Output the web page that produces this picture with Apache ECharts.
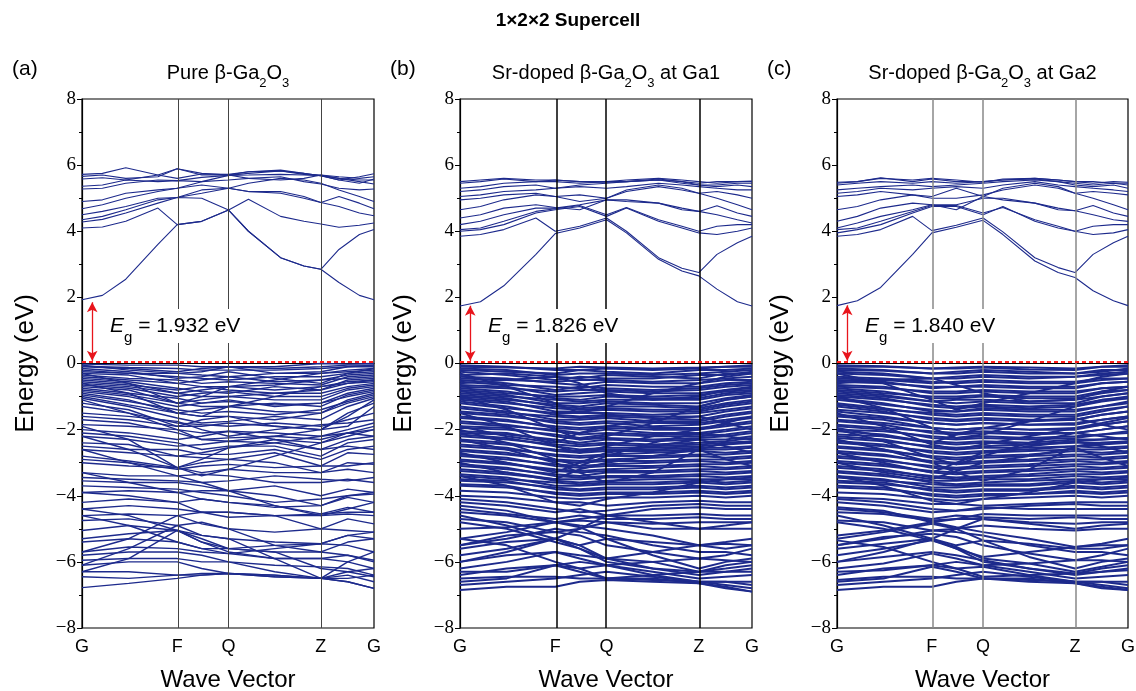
<!DOCTYPE html>
<html><head><meta charset="utf-8">
<script src="https://cdn.jsdelivr.net/npm/echarts@6/dist/echarts.min.js"></script>
<style>html,body{margin:0;padding:0;background:#fff}#c{width:1136px;height:691px}</style>
</head><body><div id="c"></div>
<script>
// ---------- axis ticks ----------
const kLabels = ['G', 'F', 'Q', 'Z', 'G'];
const kPos = [0, 0.326, 0.502, 0.818, 1];
// k grid for conduction / valence bands
const kCond = [0, .07, .15, .26, .326, .41, .502, .57, .68, .76, .818, .88, .95, 1];
const kVal = [0, .16, .326, .41, .502, .66, .818, .91, 1];
const gaps = [1.932, 1.826, 1.840];

// ---------- (a) Pure ----------
const condA = [
 [1.93,2.06,2.55,3.6,4.2,4.3,4.64,4.0,3.2,2.95,2.85,2.45,2.06,1.93],
 [4.1,4.13,4.3,4.7,4.2,4.3,4.64,4.97,4.45,4.3,4.22,4.12,4.18,4.25],
 [4.28,4.36,4.55,4.85,5.02,5.0,4.64,4.0,3.2,2.95,2.85,3.45,3.9,4.05],
 [4.35,4.45,4.65,4.95,5.02,5.15,5.3,5.45,5.6,5.55,5.45,5.25,5.05,4.9],
 [4.5,4.6,4.75,5.0,5.02,5.25,5.3,5.2,5.15,5.0,4.87,5.05,4.85,4.68],
 [4.68,4.8,5.0,5.2,5.3,5.4,5.3,5.2,5.2,5.05,4.87,4.75,4.55,4.47],
 [4.9,4.95,5.15,5.25,5.3,5.5,5.55,5.6,5.65,5.5,5.43,5.3,5.25,5.28],
 [5.28,5.3,5.45,5.55,5.53,5.63,5.69,5.75,5.82,5.75,5.68,5.6,5.5,5.43],
 [5.36,5.4,5.55,5.5,5.53,5.5,5.69,5.7,5.72,5.7,5.68,5.55,5.45,5.58],
 [5.58,5.62,5.55,5.7,5.89,5.75,5.7,5.8,5.85,5.75,5.68,5.55,5.65,5.74],
 [5.72,5.75,5.92,5.7,5.6,5.73,5.72,5.8,5.82,5.72,5.7,5.65,5.6,5.65],
 [5.66,5.7,5.6,5.65,5.89,5.7,5.7,5.6,5.55,5.6,5.7,5.6,5.55,5.55]
];
const valA = [
 [-0.02,-0.05,-0.05,-0.1,-0.1,-0.1,0,-0.02,0],
 [-0.05,-0.2,-0.3,-0.25,-0.1,-0.15,-0.1,-0.05,-0.05],
 [-0.08,-0.12,-0.15,-0.2,-0.2,-0.2,-0.15,-0.1,-0.05],
 [-0.1,-0.15,-0.25,-0.15,-0.1,-0.3,-0.25,-0.1,-0.1],
 [-0.15,-0.25,-0.45,-0.4,-0.25,-0.45,-0.6,-0.3,-0.15],
 [-0.2,-0.3,-0.3,-0.35,-0.4,-0.3,-0.3,-0.25,-0.2],
 [-0.25,-0.3,-0.4,-0.45,-0.5,-0.4,-0.4,-0.3,-0.25],
 [-0.3,-0.35,-0.6,-0.5,-0.4,-0.55,-0.5,-0.35,-0.3],
 [-0.3,-0.6,-1.2,-1.0,-0.7,-0.5,-0.3,-0.2,-0.15],
 [-0.35,-0.45,-0.5,-0.6,-0.55,-0.6,-0.65,-0.4,-0.35],
 [-0.4,-0.5,-0.6,-0.7,-0.7,-0.65,-0.5,-0.45,-0.4],
 [-0.45,-0.55,-0.75,-0.85,-0.9,-0.7,-0.8,-0.5,-0.45],
 [-0.5,-0.6,-0.9,-0.8,-0.7,-0.8,-0.7,-0.55,-0.5],
 [-0.55,-0.65,-0.8,-0.7,-0.8,-0.9,-0.8,-0.6,-0.55],
 [-0.6,-0.7,-0.9,-1.0,-1.0,-0.9,-0.9,-0.7,-0.6],
 [-0.6,-0.9,-1.5,-1.6,-1.3,-1.0,-0.7,-0.6,-0.5],
 [-0.65,-0.75,-1.0,-0.9,-0.85,-1.0,-1.0,-0.75,-0.65],
 [-0.7,-0.8,-1.2,-1.1,-1.0,-1.1,-1.1,-0.8,-0.7],
 [-0.75,-0.9,-1.05,-1.2,-1.1,-1.3,-1.2,-0.9,-0.75],
 [-0.8,-0.95,-1.2,-1.3,-1.3,-1.2,-1.3,-0.95,-0.8],
 [-0.85,-1.0,-1.3,-1.2,-1.15,-1.25,-1.2,-1.0,-0.85],
 [-0.9,-1.1,-1.5,-1.4,-1.3,-1.45,-1.5,-1.1,-0.9],
 [-0.95,-1.15,-1.4,-1.5,-1.45,-1.55,-1.4,-1.15,-0.95],
 [-1.0,-1.25,-1.5,-1.6,-1.6,-1.7,-1.5,-1.2,-1.0],
 [-1.05,-1.3,-1.65,-1.8,-1.75,-1.6,-1.7,-1.3,-1.05],
 [-1.1,-1.5,-2.0,-2.3,-2.35,-2.2,-2.0,-1.5,-1.2],
 [-1.2,-1.4,-1.9,-1.7,-1.6,-1.9,-2.0,-1.6,-1.1],
 [-1.3,-1.5,-1.8,-1.85,-1.9,-1.8,-1.9,-1.7,-1.5],
 [-1.5,-1.6,-1.75,-2.0,-2.2,-2.0,-1.85,-1.8,-1.7],
 [-1.6,-1.7,-1.9,-1.9,-1.8,-1.9,-2.0,-1.9,-1.3],
 [-1.7,-1.8,-2.1,-2.3,-2.25,-2.2,-2.3,-2.1,-1.9],
 [-1.85,-1.9,-2.0,-2.1,-2.05,-2.1,-2.2,-2.0,-1.8],
 [-1.9,-2.3,-3.15,-3.4,-3.2,-2.8,-2.4,-2.2,-2.0],
 [-2.0,-2.1,-2.3,-2.2,-2.05,-2.3,-2.4,-2.1,-2.0],
 [-2.1,-2.2,-2.4,-2.6,-2.5,-2.5,-2.8,-2.4,-2.3],
 [-2.2,-2.3,-2.5,-2.45,-2.35,-2.4,-2.6,-2.3,-2.2],
 [-2.2,-2.6,-3.15,-2.9,-2.55,-2.4,-2.2,-2.1,-2.2],
 [-2.4,-2.45,-2.8,-2.7,-2.55,-2.3,-2.6,-2.5,-2.6],
 [-2.5,-2.6,-2.6,-2.75,-2.75,-2.6,-2.9,-2.6,-2.5],
 [-2.6,-2.7,-2.8,-2.85,-2.9,-2.7,-3.1,-2.7,-2.75],
 [-2.6,-3.0,-3.4,-3.6,-3.85,-4.3,-4.6,-4.4,-4.2],
 [-2.8,-2.95,-3.15,-3.0,-2.9,-3.0,-3.3,-3.0,-3.05],
 [-2.9,-3.0,-3.2,-3.1,-3.05,-3.15,-3.1,-3.1,-3.0],
 [-3.0,-3.1,-3.15,-3.3,-3.2,-3.3,-3.3,-3.2,-3.3],
 [-3.3,-3.4,-3.4,-3.35,-3.4,-3.6,-3.6,-3.5,-3.6],
 [-3.3,-3.6,-3.9,-4.1,-4.2,-4.35,-4.3,-4.0,-3.9],
 [-3.45,-3.5,-3.55,-3.6,-3.55,-3.4,-3.5,-3.55,-3.45],
 [-3.55,-3.6,-3.6,-3.7,-3.85,-3.7,-4.0,-3.8,-3.9],
 [-3.7,-3.75,-3.8,-3.9,-4.0,-4.2,-4.1,-4.0,-3.95],
 [-3.9,-3.85,-3.9,-3.85,-3.85,-4.0,-4.3,-4.05,-4.2],
 [-3.9,-4.0,-4.2,-4.5,-4.5,-4.6,-4.55,-4.5,-4.5],
 [-4.2,-4.1,-4.2,-4.1,-4.2,-4.3,-4.55,-4.35,-4.5],
 [-4.4,-4.3,-4.4,-4.5,-4.5,-4.6,-4.6,-4.55,-4.6],
 [-4.4,-4.6,-5.05,-5.4,-5.7,-5.9,-5.9,-5.8,-5.95],
 [-4.6,-4.55,-4.6,-4.5,-4.65,-4.6,-5.0,-4.7,-4.85],
 [-4.6,-4.9,-5.4,-5.6,-5.75,-5.6,-5.45,-5.2,-5.1],
 [-4.75,-4.7,-4.9,-4.8,-5.0,-5.1,-5.0,-5.05,-5.1],
 [-5.05,-4.9,-5.05,-5.2,-5.3,-5.4,-5.45,-5.2,-5.3],
 [-5.3,-5.15,-5.05,-5.4,-5.6,-5.5,-5.45,-5.5,-5.7],
 [-5.4,-5.3,-5.4,-5.6,-5.6,-5.7,-5.7,-5.8,-6.0],
 [-5.7,-5.3,-4.6,-4.85,-5.0,-5.5,-5.7,-5.4,-5.3],
 [-5.7,-5.55,-5.6,-5.7,-5.75,-5.9,-5.9,-6.0,-6.2],
 [-5.8,-5.7,-5.7,-5.8,-6.0,-6.1,-6.15,-6.2,-6.4],
 [-5.95,-5.9,-5.9,-6.0,-6.0,-6.3,-6.5,-6.4,-6.6],
 [-6.1,-5.6,-4.9,-5.2,-5.3,-5.9,-6.5,-6.0,-5.7],
 [-6.1,-6.0,-6.0,-6.2,-6.35,-6.45,-6.5,-6.6,-6.8],
 [-6.3,-5.9,-5.05,-5.3,-5.6,-5.7,-6.2,-6.3,-6.45],
 [-6.3,-6.3,-6.4,-6.35,-6.35,-6.4,-6.5,-6.5,-6.4],
 [-6.45,-6.5,-6.4,-6.4,-6.35,-6.45,-6.5,-6.3,-6.2],
 [-6.78,-6.65,-6.5,-6.4,-6.35,-6.4,-6.5,-6.6,-6.8]
];

// ---------- (b) Sr at Ga1 ----------
const condB = [
 [1.74,1.87,2.35,3.3,3.93,4.1,4.35,3.95,3.15,2.8,2.65,2.25,1.87,1.74],
 [3.85,3.9,4.05,4.4,4.0,4.15,4.4,4.0,3.2,2.88,2.75,3.3,3.65,3.85],
 [4.0,4.05,4.2,4.55,4.65,4.75,4.45,4.7,4.3,4.1,3.95,3.9,4.0,4.1],
 [4.05,4.1,4.3,4.6,4.68,4.78,4.5,4.72,4.35,4.15,4.0,4.15,4.2,4.2],
 [4.2,4.3,4.5,4.7,4.7,4.8,4.95,4.95,4.85,4.7,4.6,4.77,4.55,4.45],
 [4.4,4.5,4.7,4.8,4.72,4.65,4.95,4.9,4.85,4.65,4.6,4.5,4.35,4.25],
 [4.65,4.75,4.95,5.1,5.05,4.9,5.0,5.2,5.35,5.25,5.15,5.0,4.8,4.65],
 [4.95,5.0,5.1,5.15,5.05,5.1,5.0,5.25,5.4,5.3,5.15,5.2,5.1,5.0],
 [5.05,5.1,5.2,5.25,5.3,5.35,5.3,5.35,5.45,5.4,5.35,5.3,5.25,5.25],
 [5.2,5.25,5.35,5.4,5.3,5.4,5.45,5.5,5.55,5.45,5.4,5.35,5.4,5.35],
 [5.3,5.35,5.45,5.5,5.5,5.45,5.5,5.5,5.55,5.5,5.4,5.4,5.45,5.45],
 [5.45,5.5,5.58,5.5,5.55,5.5,5.48,5.5,5.58,5.5,5.45,5.5,5.5,5.5],
 [5.5,5.55,5.6,5.55,5.55,5.5,5.5,5.55,5.6,5.55,5.5,5.45,5.5,5.52]
];
const valB = [
 [-0.05,-0.1,-0.2,-0.2,-0.15,-0.2,-0.15,-0.1,-0.05],
 [-0.1,-0.12,-0.15,-0.1,-0.12,-0.15,-0.12,-0.1,-0.1],
 [-0.15,-0.2,-0.35,-0.3,-0.3,-0.35,-0.3,-0.25,-0.2],
 [-0.2,-0.25,-0.3,-0.2,-0.25,-0.3,-0.2,-0.2,-0.15],
 [-0.25,-0.35,-0.5,-0.4,-0.45,-0.45,-0.35,-0.35,-0.25],
 [-0.3,-0.7,-1.2,-1.5,-1.3,-0.9,-0.6,-0.4,-0.3],
 [-0.35,-0.3,-0.4,-0.45,-0.35,-0.4,-0.45,-0.3,-0.3],
 [-0.4,-0.45,-0.6,-0.65,-0.55,-0.6,-0.6,-0.5,-0.5],
 [-0.45,-0.5,-0.55,-0.5,-0.5,-0.55,-0.5,-0.45,-0.4],
 [-0.5,-0.6,-0.8,-0.7,-0.75,-0.8,-0.75,-0.65,-0.6],
 [-0.55,-0.65,-0.7,-0.75,-0.65,-0.7,-0.7,-0.6,-0.55],
 [-0.6,-0.5,-0.4,-0.6,-0.9,-1.1,-1.0,-0.8,-0.7],
 [-0.65,-0.7,-0.95,-0.9,-0.85,-0.9,-0.9,-0.8,-0.75],
 [-0.7,-0.75,-0.85,-0.8,-0.8,-0.85,-0.8,-0.7,-0.65],
 [-0.75,-0.85,-1.05,-1.1,-1.0,-1.05,-1.05,-0.9,-0.85],
 [-0.8,-0.9,-1.0,-1.0,-0.95,-1.0,-0.95,-0.85,-0.8],
 [-0.85,-0.95,-1.2,-1.2,-1.15,-1.2,-1.2,-1.05,-0.95],
 [-0.9,-1.0,-1.1,-1.15,-1.1,-1.1,-1.1,-0.95,-0.9],
 [-0.95,-1.05,-1.3,-1.35,-1.3,-1.3,-1.35,-1.2,-1.1],
 [-1.0,-1.1,-1.25,-1.3,-1.2,-1.25,-1.3,-1.1,-1.0],
 [-1.0,-1.4,-2.0,-2.3,-2.2,-1.8,-1.3,-1.1,-1.0],
 [-1.05,-1.15,-1.45,-1.45,-1.4,-1.45,-1.45,-1.3,-1.2],
 [-1.1,-1.2,-1.35,-1.4,-1.35,-1.4,-1.4,-1.25,-1.15],
 [-1.15,-1.3,-1.55,-1.6,-1.55,-1.6,-1.6,-1.45,-1.35],
 [-1.2,-1.35,-1.5,-1.5,-1.5,-1.55,-1.5,-1.4,-1.3],
 [-1.3,-1.45,-1.7,-1.7,-1.65,-1.75,-1.75,-1.6,-1.5],
 [-1.35,-1.5,-1.6,-1.65,-1.6,-1.65,-1.7,-1.55,-1.45],
 [-1.45,-1.55,-1.8,-1.85,-1.8,-1.9,-1.85,-1.75,-1.65],
 [-1.5,-1.6,-1.75,-1.8,-1.75,-1.8,-1.8,-1.7,-1.6],
 [-1.5,-1.9,-2.5,-2.7,-2.5,-2.2,-2.0,-1.8,-1.6],
 [-1.6,-1.7,-1.95,-2.0,-1.95,-2.0,-2.0,-1.9,-1.8],
 [-1.65,-1.75,-1.9,-1.95,-1.9,-1.95,-1.95,-1.85,-1.75],
 [-1.75,-1.85,-2.05,-2.15,-2.1,-2.15,-2.15,-2.05,-1.95],
 [-1.8,-1.9,-2.0,-2.1,-2.0,-2.1,-2.1,-2.0,-1.9],
 [-1.9,-2.2,-2.4,-2.1,-1.9,-1.7,-1.6,-1.8,-2.0],
 [-1.9,-1.95,-2.2,-2.3,-2.25,-2.3,-2.25,-2.2,-2.1],
 [-1.95,-2.0,-2.15,-2.25,-2.15,-2.2,-2.2,-2.15,-2.05],
 [-2.0,-2.4,-2.9,-3.1,-2.8,-2.4,-2.1,-2.2,-2.3],
 [-2.05,-2.1,-2.35,-2.45,-2.4,-2.45,-2.4,-2.35,-2.25],
 [-2.1,-2.15,-2.3,-2.4,-2.3,-2.35,-2.3,-2.3,-2.2],
 [-2.15,-2.25,-2.5,-2.6,-2.55,-2.55,-2.5,-2.45,-2.4],
 [-2.2,-2.3,-2.45,-2.5,-2.45,-2.5,-2.45,-2.4,-2.35],
 [-2.3,-2.6,-3.0,-3.3,-3.6,-3.3,-2.6,-2.4,-2.4],
 [-2.3,-2.4,-2.65,-2.7,-2.65,-2.65,-2.6,-2.6,-2.55],
 [-2.35,-2.45,-2.6,-2.65,-2.6,-2.6,-2.55,-2.55,-2.5],
 [-2.45,-2.55,-2.8,-2.85,-2.8,-2.8,-2.75,-2.75,-2.7],
 [-2.5,-2.6,-2.75,-2.8,-2.75,-2.7,-2.65,-2.7,-2.65],
 [-2.6,-2.7,-2.95,-3.0,-2.95,-2.95,-2.9,-2.9,-2.85],
 [-2.65,-2.75,-2.9,-2.95,-2.9,-2.85,-2.8,-2.85,-2.8],
 [-2.7,-3.0,-3.3,-3.0,-2.7,-2.5,-2.3,-2.5,-2.7],
 [-2.75,-2.85,-3.1,-3.15,-3.1,-3.1,-3.05,-3.05,-3.0],
 [-2.8,-2.9,-3.05,-3.1,-3.05,-3.0,-2.95,-3.0,-2.95],
 [-2.9,-3.0,-3.25,-3.3,-3.25,-3.25,-3.2,-3.2,-3.15],
 [-2.95,-3.05,-3.2,-3.25,-3.2,-3.15,-3.1,-3.15,-3.1],
 [-3.0,-3.3,-3.5,-3.2,-3.0,-2.8,-2.6,-2.9,-3.1],
 [-3.05,-3.15,-3.4,-3.45,-3.4,-3.4,-3.35,-3.35,-3.3],
 [-3.1,-3.2,-3.35,-3.4,-3.3,-3.3,-3.25,-3.3,-3.25],
 [-3.2,-3.3,-3.55,-3.6,-3.55,-3.5,-3.5,-3.5,-3.45],
 [-3.25,-3.35,-3.5,-3.5,-3.45,-3.45,-3.4,-3.45,-3.4],
 [-3.35,-3.45,-3.7,-3.7,-3.65,-3.65,-3.6,-3.65,-3.6],
 [-3.4,-3.5,-3.6,-3.65,-3.6,-3.6,-3.55,-3.6,-3.55],
 [-3.4,-3.7,-4.2,-4.3,-4.1,-3.9,-3.6,-3.5,-3.5],
 [-3.5,-3.55,-3.8,-3.85,-3.8,-3.8,-3.75,-3.8,-3.75],
 [-3.55,-3.6,-3.75,-3.8,-3.75,-3.75,-3.7,-3.75,-3.7],
 [-3.65,-3.7,-3.95,-4.0,-3.95,-3.95,-3.9,-3.95,-3.9],
 [-3.7,-3.75,-3.9,-3.95,-3.9,-3.9,-3.85,-3.9,-3.85],
 [-3.85,-3.9,-4.05,-4.1,-4.05,-4.05,-4.0,-4.05,-4.0],
 [-4.0,-4.05,-4.2,-4.2,-4.3,-4.2,-4.15,-4.2,-4.2],
 [-4.1,-4.2,-4.4,-4.5,-4.45,-4.3,-4.25,-4.3,-4.3],
 [-4.2,-4.3,-4.5,-4.4,-4.6,-4.4,-4.35,-4.4,-4.4],
 [-4.3,-4.45,-4.8,-4.7,-4.6,-4.6,-4.55,-4.6,-4.6],
 [-4.4,-4.55,-4.7,-4.6,-4.7,-4.7,-4.65,-4.7,-4.7],
 [-4.5,-4.6,-4.8,-4.75,-4.8,-4.85,-4.8,-4.8,-4.8],
 [-4.6,-4.9,-5.3,-5.0,-4.6,-4.8,-5.0,-4.9,-4.8],
 [-4.7,-4.8,-5.1,-5.0,-4.8,-5.0,-5.0,-5.0,-5.0],
 [-4.8,-5.0,-5.4,-5.6,-5.9,-5.7,-5.5,-5.45,-5.5],
 [-5.0,-4.95,-4.8,-4.9,-5.0,-5.2,-5.5,-5.4,-5.3],
 [-5.3,-5.1,-4.8,-4.95,-5.3,-5.4,-5.5,-5.6,-5.5],
 [-5.3,-5.5,-6.0,-6.2,-6.5,-6.4,-6.3,-6.2,-6.1],
 [-5.5,-5.2,-5.1,-5.2,-5.5,-5.7,-5.9,-5.8,-5.6],
 [-5.5,-5.3,-5.0,-5.1,-5.2,-5.5,-5.7,-5.7,-5.8],
 [-5.6,-5.4,-5.3,-5.5,-5.3,-5.8,-6.2,-6.0,-5.9],
 [-5.8,-5.6,-5.3,-5.5,-5.9,-6.0,-6.3,-6.1,-6.0],
 [-6.0,-5.8,-5.7,-5.8,-5.9,-6.2,-6.3,-6.3,-6.3],
 [-6.0,-5.7,-5.3,-5.6,-6.0,-6.2,-6.4,-6.3,-6.2],
 [-6.2,-6.0,-5.7,-5.9,-6.1,-6.3,-6.5,-6.45,-6.4],
 [-6.3,-6.3,-6.1,-6.0,-6.1,-6.0,-5.9,-5.95,-6.0],
 [-6.4,-6.2,-6.1,-6.2,-6.1,-6.4,-6.6,-6.6,-6.6],
 [-6.5,-6.45,-6.45,-6.5,-6.5,-6.55,-6.6,-6.6,-6.7],
 [-6.6,-6.5,-6.1,-6.3,-6.5,-6.5,-6.65,-6.75,-6.9],
 [-6.7,-6.6,-6.5,-6.4,-6.3,-6.45,-6.6,-6.7,-6.8],
 [-6.85,-6.75,-6.75,-6.6,-6.55,-6.6,-6.65,-6.8,-6.9]
];

// ---------- (c) Sr at Ga2 ----------
const condC = [
 [1.75,1.9,2.3,3.3,3.95,4.12,4.33,3.9,3.1,2.75,2.6,2.2,1.9,1.75],
 [3.85,3.9,4.05,4.45,4.02,4.18,4.4,3.98,3.2,2.9,2.75,3.3,3.65,3.85],
 [3.95,4.05,4.2,4.55,4.75,4.75,4.5,4.75,4.3,4.1,4.0,3.9,3.95,4.05],
 [4.05,4.1,4.3,4.6,4.78,4.78,4.55,4.72,4.35,4.15,4.0,4.15,4.2,4.2],
 [4.1,4.25,4.45,4.65,4.8,4.8,5.0,5.0,4.85,4.7,4.62,4.78,4.55,4.45],
 [4.3,4.45,4.7,4.85,4.8,4.65,5.05,4.95,4.85,4.65,4.62,4.5,4.35,4.3],
 [4.65,4.75,4.95,5.1,5.0,5.0,5.1,5.25,5.4,5.3,5.15,5.0,4.8,4.65],
 [5.05,5.1,5.2,5.1,5.05,5.3,5.05,5.3,5.45,5.35,5.15,5.2,5.15,5.1],
 [5.15,5.2,5.3,5.25,5.3,5.35,5.3,5.4,5.5,5.4,5.35,5.3,5.25,5.2],
 [5.25,5.3,5.35,5.4,5.35,5.4,5.45,5.5,5.55,5.5,5.4,5.35,5.4,5.3],
 [5.4,5.45,5.5,5.45,5.5,5.45,5.5,5.55,5.58,5.5,5.45,5.4,5.45,5.4],
 [5.45,5.5,5.62,5.5,5.58,5.5,5.5,5.55,5.6,5.55,5.5,5.5,5.45,5.45],
 [5.48,5.5,5.6,5.55,5.6,5.55,5.48,5.58,5.6,5.55,5.5,5.45,5.5,5.48]
];
const valC = [
 [-0.05,-0.08,-0.15,-0.15,-0.12,-0.18,-0.2,-0.1,-0.05],
 [-0.1,-0.1,-0.15,-0.12,-0.1,-0.12,-0.15,-0.1,-0.1],
 [-0.15,-0.2,-0.3,-0.3,-0.25,-0.3,-0.3,-0.25,-0.15],
 [-0.2,-0.22,-0.3,-0.25,-0.2,-0.25,-0.3,-0.2,-0.2],
 [-0.25,-0.3,-0.45,-0.45,-0.4,-0.45,-0.4,-0.3,-0.25],
 [-0.3,-0.6,-1.1,-1.4,-1.2,-0.9,-0.6,-0.4,-0.3],
 [-0.3,-0.35,-0.45,-0.4,-0.35,-0.4,-0.4,-0.35,-0.3],
 [-0.4,-0.45,-0.55,-0.6,-0.55,-0.6,-0.6,-0.5,-0.45],
 [-0.45,-0.5,-0.6,-0.55,-0.5,-0.55,-0.55,-0.45,-0.45],
 [-0.5,-0.55,-0.75,-0.7,-0.7,-0.75,-0.75,-0.6,-0.55],
 [-0.55,-0.6,-0.7,-0.7,-0.65,-0.7,-0.7,-0.6,-0.55],
 [-0.6,-0.5,-0.45,-0.65,-0.9,-1.15,-1.1,-0.85,-0.7],
 [-0.65,-0.7,-0.9,-0.9,-0.85,-0.9,-0.9,-0.75,-0.7],
 [-0.7,-0.75,-0.85,-0.85,-0.8,-0.85,-0.85,-0.75,-0.7],
 [-0.75,-0.85,-1.05,-1.05,-1.0,-1.05,-1.05,-0.9,-0.8],
 [-0.8,-0.9,-1.0,-1.0,-0.95,-1.0,-1.0,-0.85,-0.8],
 [-0.85,-0.95,-1.15,-1.2,-1.15,-1.2,-1.2,-1.0,-0.9],
 [-0.9,-1.0,-1.15,-1.1,-1.1,-1.15,-1.1,-1.0,-0.9],
 [-0.95,-1.05,-1.3,-1.35,-1.3,-1.35,-1.3,-1.15,-1.05],
 [-1.0,-1.1,-1.25,-1.3,-1.25,-1.3,-1.25,-1.1,-1.05],
 [-1.0,-1.35,-1.95,-2.25,-2.15,-1.75,-1.3,-1.1,-1.0],
 [-1.05,-1.2,-1.45,-1.45,-1.4,-1.45,-1.45,-1.3,-1.15],
 [-1.1,-1.25,-1.4,-1.45,-1.35,-1.4,-1.4,-1.3,-1.2],
 [-1.2,-1.35,-1.55,-1.6,-1.55,-1.6,-1.6,-1.45,-1.3],
 [-1.25,-1.4,-1.5,-1.55,-1.5,-1.55,-1.55,-1.4,-1.3],
 [-1.3,-1.45,-1.7,-1.75,-1.7,-1.75,-1.7,-1.55,-1.45],
 [-1.4,-1.5,-1.65,-1.7,-1.65,-1.7,-1.7,-1.55,-1.45],
 [-1.45,-1.6,-1.8,-1.85,-1.8,-1.85,-1.85,-1.7,-1.6],
 [-1.5,-1.9,-2.45,-2.6,-2.45,-2.2,-1.95,-1.8,-1.65],
 [-1.55,-1.65,-1.8,-1.85,-1.8,-1.85,-1.8,-1.7,-1.6],
 [-1.6,-1.7,-1.95,-2.0,-1.95,-2.0,-2.0,-1.85,-1.75],
 [-1.7,-1.8,-1.95,-2.0,-1.95,-2.0,-1.95,-1.85,-1.75],
 [-1.75,-1.85,-2.1,-2.15,-2.1,-2.15,-2.1,-2.0,-1.9],
 [-1.85,-1.95,-2.05,-2.1,-2.05,-2.1,-2.1,-2.0,-1.9],
 [-1.95,-2.2,-2.4,-2.15,-1.95,-1.75,-1.65,-1.85,-2.0],
 [-1.9,-2.0,-2.25,-2.3,-2.25,-2.3,-2.25,-2.15,-2.05],
 [-2.0,-2.05,-2.2,-2.25,-2.2,-2.25,-2.2,-2.15,-2.1],
 [-2.0,-2.35,-2.85,-3.05,-2.8,-2.4,-2.1,-2.2,-2.3],
 [-2.05,-2.15,-2.4,-2.45,-2.4,-2.45,-2.35,-2.3,-2.25],
 [-2.15,-2.2,-2.35,-2.4,-2.35,-2.4,-2.3,-2.3,-2.25],
 [-2.2,-2.3,-2.55,-2.6,-2.55,-2.55,-2.5,-2.45,-2.4],
 [-2.25,-2.35,-2.5,-2.55,-2.5,-2.45,-2.4,-2.4,-2.35],
 [-2.3,-2.6,-3.0,-3.3,-3.55,-3.2,-2.5,-2.4,-2.4],
 [-2.35,-2.45,-2.7,-2.75,-2.7,-2.65,-2.6,-2.6,-2.55],
 [-2.4,-2.5,-2.65,-2.7,-2.65,-2.6,-2.5,-2.55,-2.5],
 [-2.5,-2.6,-2.85,-2.9,-2.85,-2.8,-2.75,-2.75,-2.7],
 [-2.55,-2.65,-2.8,-2.85,-2.8,-2.75,-2.65,-2.7,-2.65],
 [-2.65,-2.75,-3.0,-3.05,-3.0,-2.95,-2.9,-2.9,-2.85],
 [-2.7,-2.8,-2.95,-3.0,-2.95,-2.9,-2.8,-2.85,-2.8],
 [-2.7,-3.0,-3.3,-3.0,-2.7,-2.5,-2.35,-2.5,-2.7],
 [-2.8,-2.9,-3.15,-3.2,-3.15,-3.1,-3.05,-3.05,-3.0],
 [-2.85,-2.95,-3.1,-3.15,-3.1,-3.05,-2.95,-3.0,-2.95],
 [-2.95,-3.05,-3.3,-3.35,-3.3,-3.25,-3.2,-3.2,-3.15],
 [-3.0,-3.1,-3.25,-3.3,-3.25,-3.2,-3.1,-3.15,-3.1],
 [-3.0,-3.3,-3.5,-3.25,-3.0,-2.8,-2.55,-2.85,-3.1],
 [-3.1,-3.2,-3.45,-3.5,-3.45,-3.4,-3.35,-3.35,-3.3],
 [-3.15,-3.25,-3.4,-3.45,-3.4,-3.35,-3.25,-3.3,-3.25],
 [-3.25,-3.35,-3.6,-3.65,-3.6,-3.55,-3.5,-3.5,-3.45],
 [-3.3,-3.4,-3.55,-3.55,-3.5,-3.5,-3.4,-3.45,-3.4],
 [-3.4,-3.5,-3.75,-3.75,-3.7,-3.7,-3.6,-3.65,-3.6],
 [-3.45,-3.55,-3.65,-3.7,-3.65,-3.65,-3.55,-3.6,-3.55],
 [-3.4,-3.7,-4.15,-4.25,-4.1,-3.9,-3.6,-3.5,-3.5],
 [-3.55,-3.6,-3.85,-3.9,-3.85,-3.85,-3.75,-3.8,-3.75],
 [-3.6,-3.65,-3.8,-3.85,-3.8,-3.8,-3.7,-3.75,-3.7],
 [-3.7,-3.75,-4.0,-4.05,-4.0,-3.95,-3.9,-3.95,-3.9],
 [-3.75,-3.8,-3.95,-4.0,-3.95,-3.95,-3.85,-3.9,-3.85],
 [-3.9,-3.95,-4.1,-4.15,-4.1,-4.05,-4.0,-4.05,-4.0],
 [-4.05,-4.1,-4.25,-4.25,-4.3,-4.25,-4.2,-4.2,-4.2],
 [-4.1,-4.2,-4.4,-4.45,-4.4,-4.3,-4.25,-4.3,-4.3],
 [-4.2,-4.3,-4.5,-4.45,-4.35,-4.4,-4.4,-4.4,-4.4],
 [-4.35,-4.45,-4.8,-4.7,-4.55,-4.6,-4.6,-4.6,-4.6],
 [-4.4,-4.5,-4.7,-4.6,-4.65,-4.7,-4.65,-4.7,-4.7],
 [-4.5,-4.55,-4.75,-4.7,-4.7,-4.8,-4.85,-4.8,-4.8],
 [-4.6,-4.9,-5.3,-5.0,-4.7,-4.85,-5.0,-4.9,-4.85],
 [-4.75,-4.8,-5.05,-5.0,-4.9,-5.0,-5.05,-5.0,-5.0],
 [-4.8,-5.0,-5.35,-5.6,-5.85,-5.7,-5.55,-5.5,-5.5],
 [-5.2,-5.05,-4.8,-4.95,-5.1,-5.3,-5.55,-5.45,-5.3],
 [-5.3,-5.1,-4.85,-5.0,-5.35,-5.45,-5.6,-5.6,-5.5],
 [-5.35,-5.55,-6.0,-6.2,-6.45,-6.4,-6.35,-6.2,-6.1],
 [-5.5,-5.25,-5.15,-5.25,-5.5,-5.75,-5.95,-5.8,-5.6],
 [-5.5,-5.3,-5.05,-5.1,-5.2,-5.5,-5.7,-5.7,-5.8],
 [-5.6,-5.45,-5.3,-5.5,-5.35,-5.85,-6.2,-6.0,-5.9],
 [-5.8,-5.6,-5.35,-5.55,-5.9,-6.05,-6.3,-6.15,-6.0],
 [-6.0,-5.85,-5.7,-5.8,-5.95,-6.2,-6.35,-6.3,-6.25],
 [-6.0,-5.7,-5.3,-5.6,-6.0,-6.2,-6.4,-6.3,-6.2],
 [-6.2,-6.05,-5.75,-5.9,-6.1,-6.3,-6.5,-6.45,-6.4],
 [-6.3,-6.25,-6.1,-6.0,-6.1,-6.05,-5.95,-5.95,-6.0],
 [-6.4,-6.2,-6.1,-6.2,-6.15,-6.4,-6.6,-6.6,-6.6],
 [-6.55,-6.45,-6.45,-6.5,-6.5,-6.55,-6.6,-6.6,-6.7],
 [-6.6,-6.5,-6.15,-6.3,-6.5,-6.5,-6.65,-6.75,-6.85],
 [-6.7,-6.6,-6.5,-6.4,-6.3,-6.45,-6.6,-6.7,-6.8],
 [-6.85,-6.75,-6.75,-6.6,-6.5,-6.6,-6.65,-6.8,-6.85]
];

const panelTitles = ['Pure \u03b2-Ga{s|2}O{s|3}', 'Sr-doped \u03b2-Ga{s|2}O{s|3} at Ga1', 'Sr-doped \u03b2-Ga{s|2}O{s|3} at Ga2'];
const panelLetters = ['(a)', '(b)', '(c)'];

// ---------- layout ----------
const grids = [
  {left: 82, top: 99, width: 292, height: 529},
  {left: 460, top: 99, width: 292, height: 529},
  {left: 837, top: 99, width: 291, height: 529}
];
const vlineStyle = [
  {color: '#444', width: 1},
  {color: '#000', width: 1.5},
  {color: '#888', width: 1.5}
];
const bandColor = '#1d2a8c';
const panels = [
  {cond: condA, val: valA, vw: 1.4},
  {cond: condB, val: valB, vw: 2.0},
  {cond: condC, val: valC, vw: 2.0}
];
const sansFont = 'Liberation Sans';

const xAxes = [], yAxes = [], series = [], graphic = [];
grids.forEach((g, p) => {
  xAxes.push({
    gridIndex: p, type: 'value', min: 0, max: 1,
    axisLine: {show: true, lineStyle: {color: '#000', width: 1.2}},
    axisTick: {show: false},
    splitLine: {show: false},
    axisLabel: {
      customValues: kPos, margin: 10,
      formatter: v => kLabels[kPos.indexOf(v)],
      fontFamily: sansFont, fontSize: 18, color: '#000'
    },
    name: 'Wave Vector', nameLocation: 'middle', nameGap: 40,
    nameTextStyle: {fontFamily: sansFont, fontSize: 24, color: '#000'}
  });
  yAxes.push({
    gridIndex: p, type: 'value', min: -8, max: 8, interval: 2,
    axisLine: {show: true, lineStyle: {color: '#000', width: 1.2}},
    axisTick: {show: true, length: 5, lineStyle: {color: '#000'}},
    minorTick: {show: true, splitNumber: 2, length: 3, lineStyle: {color: '#000'}},
    splitLine: {show: false},
    axisLabel: {
      margin: 6, fontFamily: 'Liberation Serif', fontSize: 19, color: '#000',
      formatter: v => (v < 0 ? '\u2212' : '') + Math.abs(v)
    },
    name: 'Energy (eV)', nameLocation: 'middle', nameGap: 43, nameRotate: 90,
    nameTextStyle: {fontFamily: sansFont, fontSize: 26, color: '#000'}
  });
  const P = panels[p];
  P.val.forEach(b => series.push({
    type: 'line', xAxisIndex: p, yAxisIndex: p, showSymbol: false, silent: true,
    lineStyle: {color: bandColor, width: P.vw}, data: b.map((v, i) => [kVal[i], v])
  }));
  P.cond.forEach(b => series.push({
    type: 'line', xAxisIndex: p, yAxisIndex: p, showSymbol: false, silent: true,
    lineStyle: {color: bandColor, width: 1.1}, data: b.map((v, i) => [kCond[i], v])
  }));
  // symmetry lines, Fermi level, gap arrow
  series.push({
    type: 'line', xAxisIndex: p, yAxisIndex: p, data: [], silent: true,
    markLine: {
      silent: true, symbol: 'none', animation: false, label: {show: false},
      lineStyle: {color: vlineStyle[p].color, width: vlineStyle[p].width, type: 'solid'},
      data: kPos.slice(1, 4).map(x => ({xAxis: x}))
    }
  });
  series.push({
    type: 'line', xAxisIndex: p, yAxisIndex: p, data: [], silent: true, z: 20,
    markLine: {
      silent: true, symbol: 'none', animation: false, label: {show: false},
      lineStyle: {color: '#ff1a1a', width: 1.8, type: [4, 3]},
      data: [{yAxis: 0.06}]
    }
  });
  series.push({
    type: 'line', xAxisIndex: p, yAxisIndex: p, data: [], silent: true, z: 21,
    markLine: {
      silent: true, symbol: ['arrow', 'arrow'], symbolSize: [8, 10], animation: false, label: {show: false},
      lineStyle: {color: '#e8141b', width: 1.3, type: 'solid'},
      data: [[{coord: [0.035, 0.08]}, {coord: [0.035, gaps[p] - 0.08]}]]
    }
  });
  // texts
  graphic.push({
    type: 'text', x: g.left + g.width / 2, y: 58, z: 10,
    style: {
      text: panelTitles[p], align: 'center', fill: '#000',
      fontFamily: sansFont, fontSize: 20, lineHeight: 30,
      rich: {s: {fontSize: 13, fontFamily: sansFont, verticalAlign: 'bottom', lineHeight: 30, padding: [0, 0, -2, 0]}}
    }
  });
  graphic.push({
    type: 'text', x: g.left - 70, y: 59, z: 10,
    style: {text: panelLetters[p], fill: '#000', fontFamily: sansFont, fontSize: 21}
  });
  graphic.push({
    type: 'text', x: g.left + 24, y: 309, z: 10,
    style: {
      text: '{i|E}{s|g}{n| = ' + gaps[p].toFixed(3) + ' eV}',
      backgroundColor: '#fff', padding: [2, 6, 2, 4],
      rich: {
        i: {fontSize: 21, fontStyle: 'italic', fontFamily: sansFont, fill: '#000', lineHeight: 30},
        s: {fontSize: 15, fontFamily: sansFont, fill: '#000', verticalAlign: 'bottom', lineHeight: 30, padding: [0, 0, -4, 0]},
        n: {fontSize: 21, fontFamily: sansFont, fill: '#000', lineHeight: 30}
      }
    }
  });
});

const chart = echarts.init(document.getElementById('c'), null, {renderer: 'canvas'});
chart.setOption({
  animation: false,
  backgroundColor: '#fff',
  title: {
    text: '1\u00d72\u00d72 Supercell', left: 'center', top: 6,
    textStyle: {fontFamily: sansFont, fontWeight: 'bold', fontSize: 19, color: '#000'}
  },
  grid: grids.map(g => Object.assign({show: true, borderColor: '#000', borderWidth: 1.2, backgroundColor: 'transparent', containLabel: false, outerBoundsMode: 'none'}, g)),
  xAxis: xAxes, yAxis: yAxes, series: series, graphic: graphic
});
</script></body></html>
